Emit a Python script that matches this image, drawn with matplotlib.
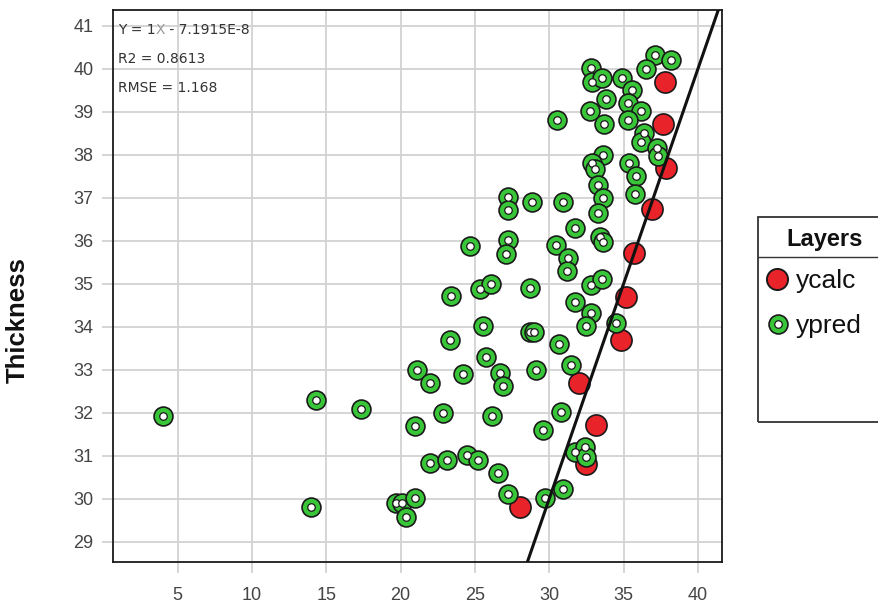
import matplotlib
matplotlib.use("Agg")
import matplotlib.pyplot as plt
from matplotlib.lines import Line2D
from matplotlib.patches import Rectangle
from matplotlib.transforms import offset_copy

# ---- data -------------------------------------------------------------
ycalc_x = [37.76, 37.65, 37.88, 36.89, 35.68, 35.14, 34.85, 31.98, 33.17, 32.50, 28.05]
ycalc_y = [39.70, 38.71, 37.70, 36.74, 35.71, 34.70, 33.69, 32.69, 31.71, 30.81, 29.80]

ypred_x = [37.09, 38.21, 36.49, 32.84, 32.90, 33.55, 34.92, 35.59, 33.80, 35.30,
           36.15, 32.77, 33.68, 35.30, 30.50, 36.35, 36.20, 37.25, 37.31, 33.62,
           32.90, 33.06, 35.36, 35.81, 33.28, 35.75, 33.62, 33.28, 27.23, 27.19,
           28.82, 30.93, 31.71, 27.23, 27.07, 24.65, 30.42, 33.39, 33.62, 31.26,
           31.20, 23.38, 25.33, 26.11, 28.67, 32.84, 33.58, 31.71, 32.79, 32.50,
           34.47, 25.51, 28.69, 28.96, 23.31, 25.73, 30.66, 21.11, 21.96, 24.20,
           26.67, 26.89, 29.09, 31.44, 20.96, 22.86, 26.15, 29.58, 30.82, 21.96,
           23.13, 24.47, 25.21, 26.56, 27.19, 29.68, 30.89, 31.71, 32.39, 32.45,
           19.68, 20.06, 20.96, 20.35, 13.96, 3.99, 14.30, 17.33]
ypred_y = [40.32, 40.20, 39.99, 40.01, 39.70, 39.78, 39.78, 39.50, 39.29, 39.20,
           39.02, 39.02, 38.71, 38.81, 38.81, 38.51, 38.30, 38.17, 37.97, 37.99,
           37.81, 37.68, 37.81, 37.50, 37.30, 37.10, 36.99, 36.64, 37.02, 36.71,
           36.91, 36.91, 36.29, 36.02, 35.69, 35.88, 35.90, 36.09, 35.98, 35.61,
           35.30, 34.71, 34.89, 34.99, 34.91, 34.97, 35.10, 34.58, 34.31, 34.02,
           34.09, 34.02, 33.88, 33.88, 33.69, 33.30, 33.61, 32.99, 32.70, 32.90,
           32.93, 32.62, 32.99, 33.11, 31.70, 32.00, 31.92, 31.60, 32.01, 30.82,
           30.90, 31.02, 30.90, 30.60, 30.11, 30.01, 30.22, 31.09, 31.21, 30.98,
           29.91, 29.91, 30.01, 29.58, 29.80, 31.92, 32.30, 32.08]

fit_slope = 1.0
fit_intercept = -7.1915e-8
xticks = [5, 10, 15, 20, 25, 30, 35, 40]
yticks = list(range(29, 42))
eq_parts = ["Y = 1", "X", " - 7.1915E-8"]
annotations = ["R2 = 0.8613", "RMSE = 1.168"]
legend_title = "Layers"
legend_labels = ["ycalc", "ypred"]
y_label = "Thickness"

# ---- style ------------------------------------------------------------
W, H = 879, 605
GREEN = "#38c638"
RED = "#e8232a"
TICK_COL = "#444444"
GRID_COL = "#d2d2d2"

fig = plt.figure(figsize=(W / 100, H / 100), dpi=100)
fig.patch.set_facecolor("white")
ax = fig.add_axes([112.7 / W, 1 - 562.3 / H, (722 - 112.7) / W, (562.3 - 10) / H])

ax.set_xlim(0.63, 41.62)
ax.set_ylim(28.52, 41.37)

ax.grid(True, color=GRID_COL, lw=1.3, zorder=0)
ax.set_axisbelow(True)
ax.set_xticks(xticks)
ax.set_yticks(yticks)
ax.tick_params(axis="both", colors=GRID_COL, length=8, width=1.3,
               labelcolor=TICK_COL, labelsize=13)
ax.tick_params(axis="x", pad=10)
ax.tick_params(axis="y", pad=6)
for lab in ax.get_xticklabels() + ax.get_yticklabels():
    lab.set_fontfamily("Liberation Sans")
for sp in ax.spines.values():
    sp.set_color("#1a1a1a")
    sp.set_linewidth(1.3)

# red points
ax.scatter(ycalc_x, ycalc_y, s=15.2 ** 2, c=RED, edgecolors="#1a1a1a",
           linewidths=1.2, zorder=3)
# green ring points
ax.scatter(ypred_x, ypred_y, s=13.6 ** 2, c=GREEN, edgecolors="#1a1a1a",
           linewidths=1.2, zorder=4)
ax.scatter(ypred_x, ypred_y, s=5.4 ** 2, c="white", edgecolors="#1a1a1a",
           linewidths=0.9, zorder=5)

# fit line
lx = [0.0, 45.0]
ly = [fit_slope * v + fit_intercept for v in lx]
ax.plot(lx, ly, color="#111111", lw=2.2, zorder=6)

# annotations
ANN_FS = 10
fig.canvas.draw()
renderer = fig.canvas.get_renderer()
xpos = 118
for part, col in zip(eq_parts, ["#333333", "#9a9a9a", "#333333"]):
    t = fig.text(xpos / W, 1 - 30 / H, part, fontsize=ANN_FS, color=col,
                 family="DejaVu Sans", va="center", ha="left")
    ext = t.get_window_extent(renderer)
    xpos += ext.width
for i, t in enumerate(annotations):
    fig.text(118 / W, 1 - (59 + 29 * i) / H, t, fontsize=ANN_FS, color="#333333",
             family="DejaVu Sans", va="center", ha="left")

# y label
fig.text(18 / W, 1 - 320 / H, y_label, rotation=90, fontsize=18.5,
         fontweight="bold", family="Liberation Sans", va="center", ha="center",
         color="#111111")

# legend (manual, cut off at the right edge as in the reference)
lx0, ly_top, ly_bot = 758.3, 217.3, 421.7
fig.add_artist(Rectangle((lx0 / W, 1 - ly_bot / H), (W + 20 - lx0) / W,
                         (ly_bot - ly_top) / H, fill=False, ec="#333333",
                         lw=1.3, transform=fig.transFigure, clip_on=False))
fig.add_artist(Line2D([lx0 / W, 1.02], [1 - 257.3 / H] * 2, color="#333333",
                      lw=1.0, transform=fig.transFigure))
fig.text(825 / W, 1 - 239 / H, legend_title, fontsize=17, fontweight="bold",
         family="Liberation Sans", ha="center", va="center", color="#111111")
fig.add_artist(Line2D([777 / W], [1 - 279 / H], marker="o", ms=15.2, mfc=RED,
                      mec="#1a1a1a", mew=1.4, ls="none", transform=fig.transFigure))
fig.add_artist(Line2D([778.5 / W], [1 - 324 / H], marker="o", ms=13.6, mfc=GREEN,
                      mec="#1a1a1a", mew=1.2, ls="none", transform=fig.transFigure))
fig.add_artist(Line2D([778.5 / W], [1 - 324 / H], marker="o", ms=5.4, mfc="white",
                      mec="#1a1a1a", mew=0.9, ls="none", transform=fig.transFigure))
for lab, yy in zip(legend_labels, [281, 326]):
    fig.text(796 / W, 1 - yy / H, lab, fontsize=19, family="Liberation Sans",
             ha="left", va="center", color="#111111")

fig.savefig("out.png", dpi=100)
